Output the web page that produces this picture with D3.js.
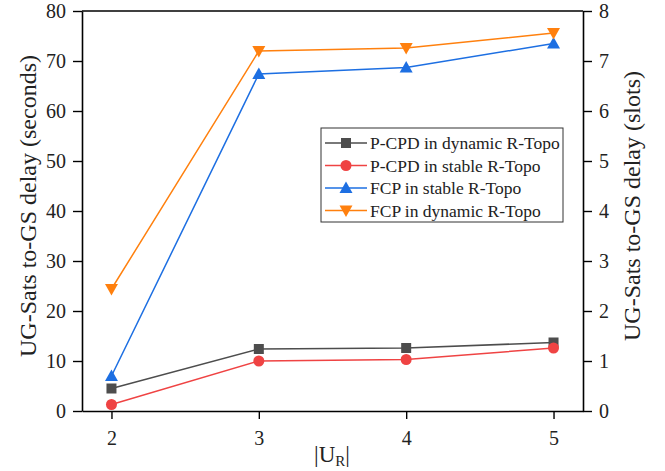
<!DOCTYPE html>
<html>
<head>
<meta charset="utf-8">
<script src="https://cdn.jsdelivr.net/npm/d3@7"></script>
<style>
  body { margin: 0; background: #fff; }
  svg text { font-family: 'Liberation Serif', 'Times New Roman', serif; fill: #222; }
</style>
</head>
<body>
<div id="chart"></div>
<script>
// data
var ur = [2, 3, 4, 5];
var pcpdDynamic = [4.5, 12.4, 12.6, 13.7];
var pcpdStable = [1.3, 10.0, 10.3, 12.6];
var fcpStable = [7.0, 67.4, 68.7, 73.5];
var fcpDynamic = [24.4, 72.0, 72.6, 75.6];
var leftTicks = [0, 10, 20, 30, 40, 50, 60, 70, 80];
var rightTicks = [0, 1, 2, 3, 4, 5, 6, 7, 8];

var series = [
  {name: 'P-CPD in dynamic R-Topo', values: pcpdDynamic, color: '#4d4d4d', marker: 'square'},
  {name: 'P-CPD in stable R-Topo', values: pcpdStable, color: '#ef4343', marker: 'circle'},
  {name: 'FCP in stable R-Topo', values: fcpStable, color: '#1d6fe2', marker: 'up'},
  {name: 'FCP in dynamic R-Topo', values: fcpDynamic, color: '#ff800e', marker: 'down'}
];

var W = 665, H = 471;
var margin = {top: 11, right: 82, bottom: 60, left: 82},
    width = W - margin.left - margin.right,
    height = H - margin.top - margin.bottom;

var svg = d3.select('#chart').append('svg')
  .attr('width', W).attr('height', H)
  .attr('font-family', "'Liberation Serif', serif")
  .append('g')
  .attr('transform', 'translate(' + margin.left + ',' + margin.top + ')');

var x = d3.scaleLinear().domain([1.8, 5.2]).range([0, width]);
var yL = d3.scaleLinear().domain([0, 80]).range([height, 0]);
var yR = d3.scaleLinear().domain([0, 8]).range([height, 0]);

// axes
svg.append('g')
  .attr('class', 'xaxis')
  .attr('transform', 'translate(0,' + height + ')')
  .call(d3.axisBottom(x).tickValues(ur).tickFormat(d3.format('d')).tickSizeInner(8).tickSizeOuter(0).tickPadding(12));

svg.append('g')
  .attr('class', 'yaxis')
  .call(d3.axisLeft(yL).tickValues(leftTicks).tickSizeInner(9).tickSizeOuter(0).tickPadding(7));

svg.append('g')
  .attr('class', 'yaxis')
  .attr('transform', 'translate(' + width + ',0)')
  .call(d3.axisRight(yR).tickValues(rightTicks).tickSizeInner(9).tickSizeOuter(0).tickPadding(7));

// top spine
svg.append('line')
  .attr('x1', 0).attr('x2', width).attr('y1', 0).attr('y2', 0)
  .style('stroke', '#000').style('stroke-width', 1.6);

svg.selectAll('g.xaxis, g.yaxis').attr('font-family', null);
svg.selectAll('path.domain').style('stroke', '#000').style('stroke-width', 1.6);
svg.selectAll('.tick line').style('stroke', '#000').style('stroke-width', 1.4);
svg.selectAll('.tick text')
  .style('font-size', '20px')
  .style('fill', '#222');

// markers
function drawMarker(g, type, color, cx, cy) {
  if (type === 'square') {
    g.append('rect').attr('x', cx - 5).attr('y', cy - 5).attr('width', 10).attr('height', 10)
      .style('fill', color);
  } else if (type === 'circle') {
    g.append('circle').attr('cx', cx).attr('cy', cy).attr('r', 5.5).style('fill', color);
  } else if (type === 'up') {
    g.append('path').attr('d', 'M' + cx + ',' + (cy - 6.5) + 'L' + (cx + 6.5) + ',' + (cy + 5) + 'L' + (cx - 6.5) + ',' + (cy + 5) + 'Z')
      .style('fill', color);
  } else {
    g.append('path').attr('d', 'M' + cx + ',' + (cy + 6.5) + 'L' + (cx + 6.5) + ',' + (cy - 5) + 'L' + (cx - 6.5) + ',' + (cy - 5) + 'Z')
      .style('fill', color);
  }
}

var line = d3.line()
  .x(function(d, i) { return x(ur[i]); })
  .y(function(d) { return yL(d); });

series.forEach(function(s) {
  var g = svg.append('g');
  g.append('path')
    .datum(s.values)
    .attr('d', line)
    .style('fill', 'none')
    .style('stroke', s.color)
    .style('stroke-width', 1.5);
  s.values.forEach(function(v, i) {
    drawMarker(g, s.marker, s.color, x(ur[i]), yL(v));
  });
});

// legend
var lg = svg.append('g').attr('transform', 'translate(' + (321 - margin.left) + ',' + (128 - margin.top) + ')');
lg.append('rect')
  .attr('width', 242).attr('height', 94)
  .style('fill', '#fff').style('stroke', '#333').style('stroke-width', 1);
series.forEach(function(s, i) {
  var yy = 15 + i * 22.5;
  lg.append('line').attr('x1', 4).attr('x2', 46).attr('y1', yy).attr('y2', yy)
    .style('stroke', s.color).style('stroke-width', 1.5);
  drawMarker(lg, s.marker, s.color, 25, yy);
  lg.append('text').attr('x', 49).attr('y', yy).attr('dy', '0.35em')
    .style('font-size', '17.5px').text(s.name);
});

// axis labels
svg.append('text')
  .attr('transform', 'rotate(-90)')
  .attr('x', -(206 - margin.top)).attr('y', -margin.left + 36)
  .attr('text-anchor', 'middle')
  .style('font-size', '24px')
  .text('UG-Sats to-GS delay (seconds)');

svg.append('text')
  .attr('transform', 'rotate(-90)')
  .attr('x', -(206 - margin.top)).attr('y', width + 57)
  .attr('text-anchor', 'middle')
  .style('font-size', '24px')
  .text('UG-Sats to-GS delay (slots)');

var xl = svg.append('text')
  .attr('x', 332 - margin.left).attr('y', height + 51)
  .attr('text-anchor', 'middle')
  .style('font-size', '23px');
xl.append('tspan').text('|U');
xl.append('tspan').attr('dy', 4).style('font-size', '15px').text('R');
xl.append('tspan').attr('dy', -4).text('|');
</script>
</body>
</html>
